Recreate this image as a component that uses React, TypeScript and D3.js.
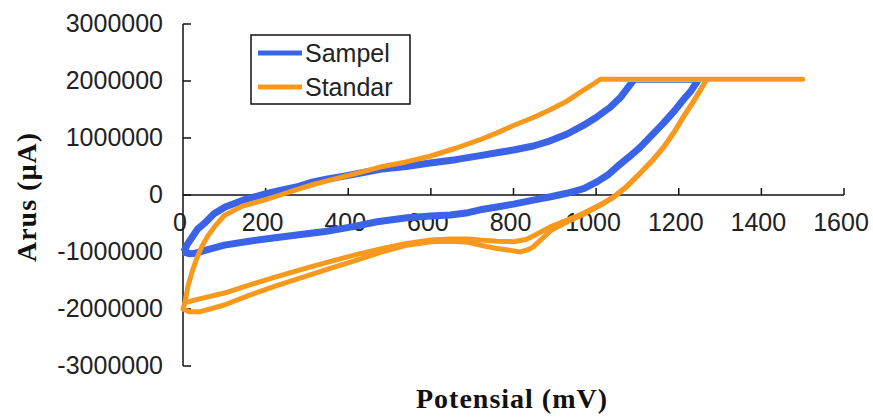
import React from 'react'
import * as d3 from 'd3'

// Sampel: forward scan (lower branch), clipped top, back along upper branch
const sampelPotensial = [
  0, 15, 30, 60, 100, 160, 223, 290, 344, 409, 470, 542, 600, 647, 690, 719, 760, 800, 848, 890, 929, 970,
  1002, 1030, 1050, 1080, 1107, 1135, 1163, 1190, 1211, 1230, 1248,
  1092, 1060, 1034, 1000, 969, 930, 889, 848, 800, 760, 719, 660, 598, 540, 477, 440, 397, 350, 315, 280,
  235, 199, 150, 102, 75, 53, 35, 22, 10, 5, 0,
]
const sampelArus = [
  -1.0, -1.03, -1.02, -0.96, -0.88, -0.81, -0.75, -0.69, -0.64, -0.56, -0.47, -0.4, -0.37, -0.35, -0.31, -0.26,
  -0.21, -0.16, -0.09, -0.03, 0.03, 0.11, 0.23, 0.36, 0.49, 0.67, 0.84, 1.05, 1.26, 1.48, 1.67, 1.83, 2.03,
  2.03, 1.72, 1.54, 1.36, 1.22, 1.07, 0.95, 0.86, 0.79, 0.74, 0.69, 0.62, 0.56, 0.5, 0.45, 0.4, 0.34, 0.28,
  0.23, 0.15, 0.08, 0.02, -0.08, -0.21, -0.33, -0.49, -0.6, -0.74, -0.87, -0.96, -1.0,
].map(v => v * 1000000)

// Standar: two cycles
const standarPotensial = [
  0, 30, 100, 160, 223, 300, 360, 417, 480, 542, 600, 647, 690, 719, 760, 800, 830, 848, 889, 930, 969, 1010,
  1041, 1075, 1107, 1135, 1163, 1190, 1211, 1235, 1252, 1268, 1500,
  1010, 990, 961, 930, 890, 848, 800, 760, 719, 660, 598, 540, 477, 420, 360, 313, 260, 235, 200, 142, 100,
  77, 60, 46, 34, 24, 12, 5, 0,
  15, 40, 100, 160, 223, 300, 360, 417, 480, 542, 600, 647, 690, 719, 760, 800, 816, 835, 848, 870, 889, 930,
  969, 1010, 1041, 1075, 1107, 1135, 1163, 1190, 1211, 1235, 1252, 1268,
]
const standarArus = [
  -1.9, -1.84, -1.72, -1.58, -1.44, -1.28, -1.16, -1.05, -0.94, -0.85, -0.79, -0.77, -0.77, -0.79, -0.81, -0.82,
  -0.78, -0.72, -0.56, -0.44, -0.32, -0.17, -0.04, 0.16, 0.39, 0.6, 0.84, 1.12, 1.37, 1.64, 1.84, 2.03, 2.03,
  2.03, 1.93, 1.8, 1.65, 1.5, 1.36, 1.22, 1.09, 0.97, 0.82, 0.68, 0.58, 0.49, 0.38, 0.27, 0.18, 0.06, 0.0,
  -0.08, -0.2, -0.36, -0.55, -0.72, -0.9, -1.1, -1.3, -1.6, -1.88, -2.0,
  -2.05, -2.05, -1.93, -1.76, -1.6, -1.42, -1.28, -1.15, -1.0, -0.88, -0.82, -0.81, -0.83, -0.88, -0.94, -0.98,
  -1.0, -0.96, -0.91, -0.76, -0.63, -0.47, -0.34, -0.18, -0.05, 0.15, 0.38, 0.59, 0.83, 1.11, 1.36, 1.63,
  1.83, 2.03,
].map(v => v * 1000000)

const xTicks = [0, 200, 400, 600, 800, 1000, 1200, 1400, 1600]
const yTicks = [-3000000, -2000000, -1000000, 0, 1000000, 2000000, 3000000]

const seriesNames = ['Sampel', 'Standar']
const seriesColors = ['#3a63e8', '#f7991c']

export default function App() {
  const width = 873, height = 417

  const x = d3.scaleLinear().domain([0, 1600]).range([183, 844])
  const y = d3.scaleLinear().domain([-3000000, 3000000]).range([366, 24])

  const line = d3.line<[number, number]>()
    .x(d => x(d[0]))
    .y(d => y(d[1]))

  const sampel = sampelPotensial.map((p, i) => [p, sampelArus[i]] as [number, number])
  const standar = standarPotensial.map((p, i) => [p, standarArus[i]] as [number, number])

  const sans = '"Liberation Sans", Arial, sans-serif'
  const serif = '"Liberation Serif", "Times New Roman", serif'

  // the blue flat part sits under the orange one
  const clipTop = y(2030000) + 2.5

  return (
    <svg width={width} height={height} style={{position: 'absolute', left: 0, top: 0, background: '#fff'}}>
      <defs>
        <clipPath id="blueClip">
          <rect x={0} y={clipTop} width={width} height={height - clipTop}/>
        </clipPath>
      </defs>

      {/* axes */}
      <line x1={x(0)} x2={x(0)} y1={y(3000000)} y2={y(-3000000)} stroke="#111" strokeWidth={1.5}/>
      <line x1={x(0)} x2={x(1600)} y1={y(0)} y2={y(0)} stroke="#111" strokeWidth={1.5}/>
      {yTicks.map(t => (
        <g key={'y' + t}>
          <line x1={x(0)} x2={x(0) + 8} y1={y(t)} y2={y(t)} stroke="#111" strokeWidth={1.5}/>
          <text x={163} y={y(t)} dy="0.33em" textAnchor="end" fontFamily={sans} fontSize={25} fill="#222">{t}</text>
        </g>
      ))}
      {xTicks.map(t => (
        <g key={'x' + t}>
          {t > 0 && <line x1={x(t)} x2={x(t)} y1={y(0)} y2={y(0) - 7} stroke="#111" strokeWidth={1.5}/>}
          <text x={x(t) - 3} y={y(0) + 36} textAnchor="middle" fontFamily={sans} fontSize={25} fill="#222">{t}</text>
        </g>
      ))}

      {/* series */}
      <path d={line(sampel) || ''} fill="none" stroke={seriesColors[0]} strokeWidth={7} strokeLinejoin="round" clipPath="url(#blueClip)"/>
      <path d={line(standar) || ''} fill="none" stroke={seriesColors[1]} strokeWidth={5} strokeLinejoin="round"/>

      {/* legend */}
      <rect x={251} y={35} width={159} height={69} fill="#fff" stroke="#111" strokeWidth={1.5}/>
      {seriesNames.map((n, i) => (
        <g key={n}>
          <line x1={258} x2={302} y1={53 + i * 34} y2={53 + i * 34} stroke={seriesColors[i]} strokeWidth={5}/>
          <text x={305} y={53 + i * 34} dy="0.35em" fontFamily={sans} fontSize={25} fill="#222">{n}</text>
        </g>
      ))}

      {/* axis titles */}
      <text x={512} y={408} textAnchor="middle" fontFamily={serif} fontWeight="bold" fontSize={28} letterSpacing={1} fill="#111">Potensial (mV)</text>
      <text transform="translate(36,197) rotate(-90)" textAnchor="middle" fontFamily={serif} fontWeight="bold" fontSize={28} letterSpacing={1} fill="#111">Arus (µA)</text>
    </svg>
  )
}
